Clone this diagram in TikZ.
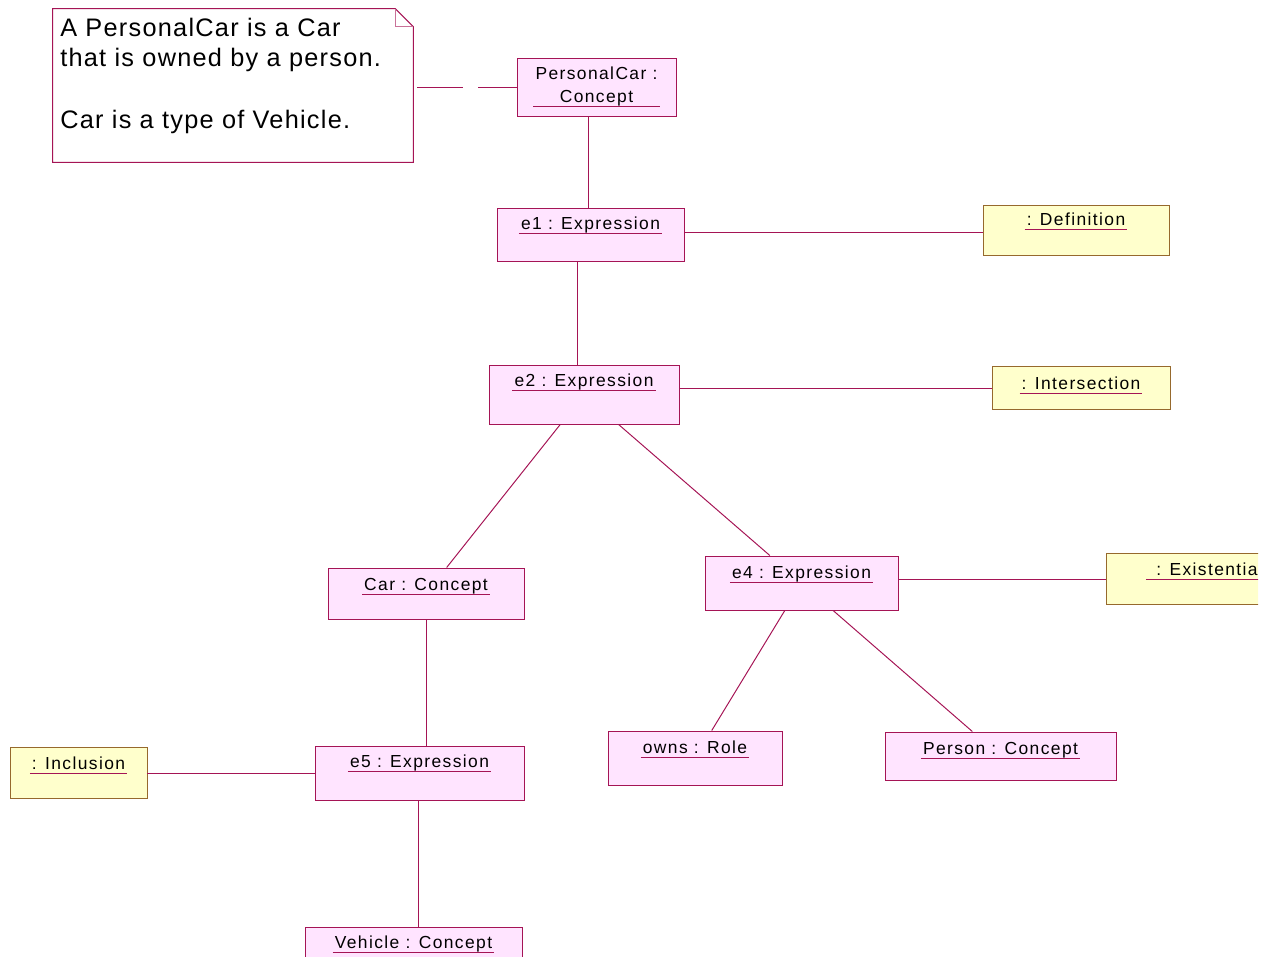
\documentclass[tikz,border=0pt]{standalone}
\usepackage{fontspec}
\setmainfont{Liberation Sans}
\newfontfamily\objfont{Liberation Sans}[LetterSpace=8]
\newfontfamily\notefont{Liberation Sans}[LetterSpace=5]
\usetikzlibrary{fit,calc}
\definecolor{objline}{RGB}{165,20,85}
\definecolor{objfill}{RGB}{255,228,255}
\definecolor{kindline}{RGB}{150,105,45}
\definecolor{kindfill}{RGB}{255,255,204}
% underlined object name, rule at a fixed distance below the baseline
\newcommand{\objlabel}[1]{\setbox0=\hbox{\kern1.5pt#1\kern1.5pt}\dp0=0pt\vtop{\box0\kern2.8pt{\color{objline}\hrule height 0.6pt}}}

\begin{document}
\begin{tikzpicture}[
  x=0.025cm,y=-0.025cm,
  obj/.style={draw=objline,fill=objfill,line width=0.7pt,inner sep=0pt},
  kind/.style={draw=kindline,fill=kindfill,line width=0.7pt,inner sep=0pt},
  lbl/.style={font=\objfont\fontsize{12.4}{15}\selectfont,inner sep=0pt,anchor=base},
  link/.style={draw=objline,line width=0.7pt},
  notebox/.style={draw=objline,fill=white,line width=0.7pt},
]
\useasboundingbox (0,0) rectangle (1266,956);
\clip (0,0) rectangle (1258,956);

% note
\node[fit={(53,9) (413,162)},inner sep=0pt] (note) {};
\draw[notebox] (note.south west) -- (note.north west) -- ($(note.north east)+(-18,0)$) -- ($(note.north east)+(0,18)$) -- (note.south east) -- cycle;
\draw[draw=objline!60,line width=0.5pt] ($(note.north east)+(-18,0)$) -- ($(note.north east)+(-18,18)$) -- ($(note.north east)+(0,18)$);
\node[font=\notefont\fontsize{18}{21.8}\selectfont,align=left,anchor=north west,inner sep=0pt] (notet) at (60,17.5) {A PersonalCar is a Car\\that is owned by a person.\\[21.8pt]Car is a type of Vehicle.};

% objects
\node[obj,fit={(517,58) (676,116)}] (pc) {};
\node[obj,fit={(497,208) (684,261)}] (e1) {};
\node[kind,fit={(983,205) (1169,255)}] (def) {};
\node[obj,fit={(489,365) (679,424)}] (e2) {};
\node[kind,fit={(992,366) (1170,409)}] (inter) {};
\node[obj,fit={(328,568) (524,619)}] (car) {};
\node[obj,fit={(705,556) (898,610)}] (e4) {};
\node[kind,fit={(1106,553) (1300,604)}] (exist) {};
\node[obj,fit={(608,731) (782,785)}] (owns) {};
\node[obj,fit={(885,732) (1116,780)}] (person) {};
\node[kind,fit={(10,747) (147,798)}] (incl) {};
\node[obj,fit={(315,746) (524,800)}] (e5) {};
\node[obj,fit={(305,927) (522,990)}] (veh) {};

% labels
\node[lbl] (pct) at ($(pc.north)+(0,45)$) {\objlabel{\renewcommand\arraystretch{1.1}\begin{tabular}[b]{@{}c@{}}PersonalCar :\\Concept\end{tabular}}};
\node[lbl] (e1t) at ($(e1.north)+(0,22)$) {\objlabel{e1 : Expression}};
\node[lbl] (deft) at ($(def.north)+(0,21)$) {\objlabel{: Definition}};
\node[lbl] (e2t) at ($(e2.north)+(0,22)$) {\objlabel{e2 : Expression}};
\node[lbl] (intert) at ($(inter.north)+(0,24)$) {\objlabel{: Intersection}};
\node[lbl] (cart) at ($(car.north)+(0,23)$) {\objlabel{Car : Concept}};
\node[lbl] (e4t) at ($(e4.north)+(0,23)$) {\objlabel{e4 : Expression}};
\node[lbl,anchor=base west] (existt) at ($(exist.north west)+(40,23)$) {\objlabel{\kern6pt: Existentia}};
\node[lbl] (ownst) at ($(owns.north)+(0,23)$) {\objlabel{owns : Role}};
\node[lbl] (persont) at ($(person.north)+(0,23)$) {\objlabel{Person : Concept}};
\node[lbl] (inclt) at ($(incl.north)+(0,23)$) {\objlabel{: Inclusion}};
\node[lbl] (e5t) at ($(e5.north)+(0,22)$) {\objlabel{e5 : Expression}};
\node[lbl] (veht) at ($(veh.north)+(0,22)$) {\objlabel{Vehicle : Concept}};

% links
\draw[link,dash pattern=on 32.6pt off 10.6pt] ($(note.east |- 0,87)+(4,0)$) -- (pc.west |- 0,87);
\draw[link] (pc.south -| 588,0) -- (e1.north -| 588,0);
\draw[link] (e1.east |- 0,232) -- (def.west |- 0,232);
\draw[link] (e1.south -| 577,0) -- (e2.north -| 577,0);
\draw[link] (e2.east |- 0,388) -- (inter.west |- 0,388);
\draw[link] (e2) -- (car);
\draw[link] (e2) -- (e4);
\draw[link] (e4.east |- 0,579) -- (exist.west |- 0,579);
\draw[link] (e4) -- (owns);
\draw[link] (e4) -- (person);
\draw[link] (car.south -| 426,0) -- (e5.north -| 426,0);
\draw[link] (e5.west |- 0,773) -- (incl.east |- 0,773);
\draw[link] (e5.south -| 418,0) -- (veh.north -| 418,0);
\end{tikzpicture}
\end{document}
